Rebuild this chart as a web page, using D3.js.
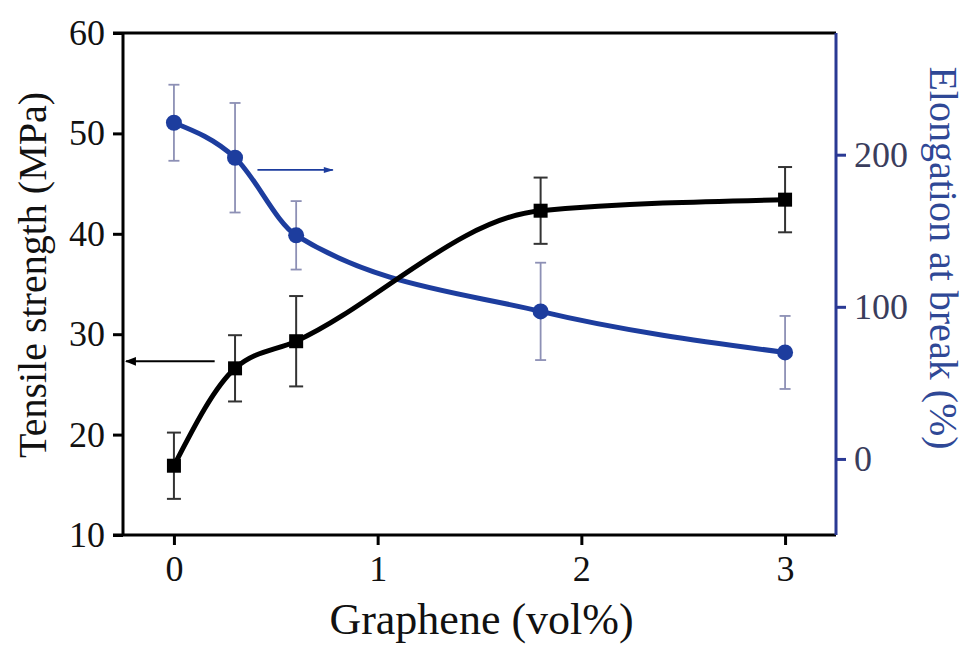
<!DOCTYPE html>
<html>
<head>
<meta charset="utf-8">
<script src="https://cdn.jsdelivr.net/npm/d3@7"></script>
<style>
	body { margin: 0; background: #fff; }
	text { font-family: "Liberation Serif", "Times New Roman", serif; }
</style>
</head>
<body>
<div id="chart"></div>
<script>
// data
var graphene = [0, 0.3, 0.6, 1.8, 3];
var tensile = [16.9, 26.6, 29.3, 42.3, 43.4];
var tensileErr = [3.3, 3.3, 4.5, 3.3, 3.25];
var elongation = [221, 198, 147, 97, 70];
var elongationErr = [25, 36, 22.5, 32, 24];

var xTicks = [0, 1, 2, 3];
var xMinor = [0.5, 1.5, 2.5];
var leftTicks = [10, 20, 30, 40, 50, 60];
var leftMinor = [15, 25, 35, 45, 55];
var rightTicks = [0, 100, 200];
var rightMinor = [-50, 50, 150, 250];

var W = 966, H = 646;
var margin = { left: 123, top: 33, right: 130, bottom: 111 };

var blue = "#1d3d9e";
var axisBlue = "#2a3994";

var svg = d3.select("#chart").append("svg")
	.attr("width", W)
	.attr("height", H);

var x = d3.scaleLinear().domain([-0.25, 3.25]).range([margin.left, W - margin.right]);
var yL = d3.scaleLinear().domain([10, 60]).range([H - margin.bottom, margin.top]);
var yR = d3.scaleLinear().domain([-50, 280]).range([H - margin.bottom, margin.top]);

/**
 * draw one axis with major and minor ticks
 */
function drawAxis(axisGen, minorGen, transform, color, fontColor){
	var g = svg.append("g").attr("transform", transform);
	g.call(minorGen);
	g.call(axisGen);
	g.selectAll("path.domain").remove();
	g.selectAll("line").style("stroke", color).style("stroke-width", 3);
	g.selectAll("text")
	.style("font-size", "36px")
	.style("fill", fontColor);
	return g;
}

// minor ticks are drawn without labels
drawAxis(
	d3.axisBottom(x).tickValues(xTicks).tickSize(10).tickPadding(10).tickFormat(d3.format("d")),
	function(g){ g.call(d3.axisBottom(x).tickValues(xMinor).tickSize(6).tickFormat("")); },
	"translate(0," + (H - margin.bottom) + ")", "#000", "#111");

drawAxis(
	d3.axisLeft(yL).tickValues(leftTicks).tickSize(10).tickPadding(8),
	function(g){ g.call(d3.axisLeft(yL).tickValues(leftMinor).tickSize(6).tickFormat("")); },
	"translate(" + margin.left + ",0)", "#000", "#111");

drawAxis(
	d3.axisRight(yR).tickValues(rightTicks).tickSize(10).tickPadding(8),
	function(g){ g.call(d3.axisRight(yR).tickValues(rightMinor).tickSize(6).tickFormat("")); },
	"translate(" + (W - margin.right) + ",0)", axisBlue, "#3a3d5c");

// frame lines
svg.append("line")
	.attr("x1", margin.left - 10).attr("x2", W - margin.right)
	.attr("y1", margin.top).attr("y2", margin.top)
	.style("stroke", "#000").style("stroke-width", 3);
svg.append("line")
	.attr("x1", margin.left - 10).attr("x2", W - margin.right)
	.attr("y1", H - margin.bottom).attr("y2", H - margin.bottom)
	.style("stroke", "#000").style("stroke-width", 3);
svg.append("line")
	.attr("x1", margin.left).attr("x2", margin.left)
	.attr("y1", margin.top).attr("y2", H - margin.bottom)
	.style("stroke", "#000").style("stroke-width", 3);
svg.append("line")
	.attr("x1", W - margin.right).attr("x2", W - margin.right)
	.attr("y1", margin.top).attr("y2", H - margin.bottom)
	.style("stroke", axisBlue).style("stroke-width", 3);

var tData = graphene.map(function(g, i){ return { x: g, y: tensile[i], e: tensileErr[i] }; });
var eData = graphene.map(function(g, i){ return { x: g, y: elongation[i], e: elongationErr[i] }; });

/**
 * error bars with caps
 */
function errorBars(data, yScale, color, width, cap){
	var g = svg.append("g");
	g.selectAll("line.v").data(data).enter().append("line")
	.attr("x1", function(d){ return x(d.x); })
	.attr("x2", function(d){ return x(d.x); })
	.attr("y1", function(d){ return yScale(d.y - d.e); })
	.attr("y2", function(d){ return yScale(d.y + d.e); })
	.style("stroke", color).style("stroke-width", width);
	[-1, 1].forEach(function(s){
		g.selectAll("line.c" + s).data(data).enter().append("line")
		.attr("x1", function(d){ return x(d.x) - cap; })
		.attr("x2", function(d){ return x(d.x) + cap; })
		.attr("y1", function(d){ return yScale(d.y + s * d.e); })
		.attr("y2", function(d){ return yScale(d.y + s * d.e); })
		.style("stroke", color).style("stroke-width", width);
	});
}

errorBars(eData, yR, "#8d90b5", 1.8, 5.5);
errorBars(tData, yL, "#333", 2, 7);

var lineT = d3.line().x(function(d){ return x(d.x); }).y(function(d){ return yL(d.y); }).curve(d3.curveMonotoneX);
var lineE = d3.line().x(function(d){ return x(d.x); }).y(function(d){ return yR(d.y); }).curve(d3.curveMonotoneX);

svg.append("path").datum(eData).attr("d", lineE)
	.style("fill", "none").style("stroke", blue).style("stroke-width", 5);
svg.append("path").datum(tData).attr("d", lineT)
	.style("fill", "none").style("stroke", "#000").style("stroke-width", 5);

svg.selectAll("circle.pt").data(eData).enter().append("circle")
	.attr("cx", function(d){ return x(d.x); })
	.attr("cy", function(d){ return yR(d.y); })
	.attr("r", 8)
	.style("fill", blue);

svg.selectAll("rect.pt").data(tData).enter().append("rect")
	.attr("x", function(d){ return x(d.x) - 7; })
	.attr("y", function(d){ return yL(d.y) - 7; })
	.attr("width", 14).attr("height", 14)
	.style("fill", "#000");

// arrows showing which axis each curve belongs to
var defs = svg.append("defs");
defs.append("marker").attr("id", "headK")
	.attr("viewBox", "0 0 10 10").attr("refX", 9).attr("refY", 5)
	.attr("markerWidth", 12).attr("markerHeight", 11).attr("markerUnits", "userSpaceOnUse")
	.attr("orient", "auto")
	.append("path").attr("d", "M0,1L10,5L0,9Z").style("fill", "#000");
defs.append("marker").attr("id", "headB")
	.attr("viewBox", "0 0 10 10").attr("refX", 9).attr("refY", 5)
	.attr("markerWidth", 16).attr("markerHeight", 10).attr("markerUnits", "userSpaceOnUse")
	.attr("orient", "auto")
	.append("path").attr("d", "M0,2L10,5L0,8Z").style("fill", blue);

svg.append("line")
	.attr("x1", x(0.2)).attr("x2", x(-0.235))
	.attr("y1", yL(27.3)).attr("y2", yL(27.3))
	.style("stroke", "#000").style("stroke-width", 2)
	.attr("marker-end", "url(#headK)");
svg.append("line")
	.attr("x1", x(0.41)).attr("x2", x(0.78))
	.attr("y1", yR(190)).attr("y2", yR(190))
	.style("stroke", blue).style("stroke-width", 1.8)
	.attr("marker-end", "url(#headB)");

// axis titles
svg.append("text")
	.attr("x", (margin.left + W - margin.right) / 2 + 2)
	.attr("y", 634)
	.style("text-anchor", "middle")
	.style("font-size", "44px")
	.style("fill", "#111")
	.text("Graphene (vol%)");

svg.append("text")
	.attr("transform", "translate(46,275) rotate(-90)")
	.style("text-anchor", "middle")
	.style("font-size", "40px")
	.style("fill", "#111")
	.text("Tensile strength (MPa)");

svg.append("text")
	.attr("transform", "translate(930,258) rotate(90)")
	.style("text-anchor", "middle")
	.style("font-size", "40px")
	.style("fill", "#2f4896")
	.text("Elongation at break (%)");
</script>
</body>
</html>
